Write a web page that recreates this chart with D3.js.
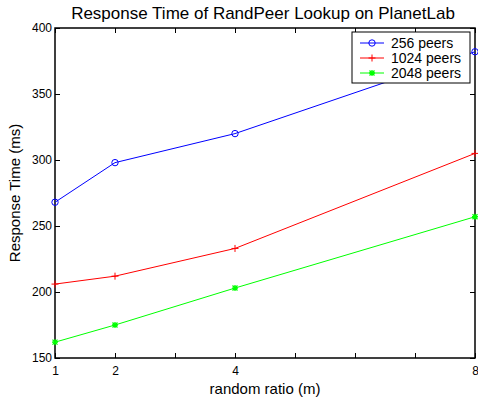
<!DOCTYPE html>
<html>
<head>
<meta charset="utf-8">
<script src="https://cdn.jsdelivr.net/npm/d3@7"></script>
<style>
  body { margin: 0; background: #fff; }
  text { font-family: "Liberation Sans", Arial, sans-serif; }
</style>
</head>
<body>
<div id="chart"></div>
<script>
var w = 478;
var h = 400;

var ratios = [1, 2, 4, 8];
var peers256 = [268, 298, 320, 382];
var peers1024 = [206, 212, 233, 305];
var peers2048 = [162, 175, 203, 257];
var seriesNames = ["256 peers", "1024 peers", "2048 peers"];
var xTicks = [1, 2, 3, 4, 5, 6, 7, 8];
var xTickLabels = {1: "1", 2: "2", 4: "4", 8: "8"};
var yTicks = [150, 200, 250, 300, 350, 400];

var series = [
  {name: seriesNames[0], values: peers256, color: "#0000ff", marker: "circle"},
  {name: seriesNames[1], values: peers1024, color: "#ff0000", marker: "plus"},
  {name: seriesNames[2], values: peers2048, color: "#00ff00", marker: "star"}
];

var plotLeft = 55, plotRight = 475, plotTop = 28, plotBottom = 358;

var xScale = d3.scaleLinear().domain([1, 8]).range([plotLeft, plotRight]);
var yScale = d3.scaleLinear().domain([150, 400]).range([plotBottom, plotTop]);

var svg = d3.select("#chart").append("svg")
  .attr("width", w)
  .attr("height", h);

// title
svg.append("text")
  .attr("x", 263)
  .attr("y", 19)
  .attr("text-anchor", "middle")
  .style("font-size", "17px")
  .text("Response Time of RandPeer Lookup on PlanetLab");

// axes (MATLAB style: ticks pointing inward, box around)
var xAxis = d3.axisBottom(xScale).tickValues(xTicks)
  .tickSize(-5).tickPadding(8)
  .tickFormat(function(d) { return xTickLabels[d] || ""; });
var xTop = d3.axisTop(xScale).tickValues(xTicks).tickSize(-5).tickFormat("");
var yAxis = d3.axisLeft(yScale).tickValues(yTicks)
  .tickSize(-5).tickPadding(3).tickFormat(d3.format("d"));
var yRight = d3.axisRight(yScale).tickValues(yTicks).tickSize(-5).tickFormat("");

function styleAxis(g) {
  g.select(".domain").remove();
  g.selectAll(".tick line").attr("stroke", "#000").attr("stroke-width", 1);
  g.selectAll(".tick text").style("font-size", "12px").attr("fill", "#000");
}

svg.append("g").attr("transform", "translate(0," + plotBottom + ")").call(xAxis).call(styleAxis);
svg.append("g").attr("transform", "translate(0," + plotTop + ")").call(xTop).call(styleAxis);
svg.append("g").attr("transform", "translate(" + plotLeft + ",0)").call(yAxis).call(styleAxis);
svg.append("g").attr("transform", "translate(" + plotRight + ",0)").call(yRight).call(styleAxis);

svg.append("rect")
  .attr("x", plotLeft).attr("y", plotTop)
  .attr("width", plotRight - plotLeft).attr("height", plotBottom - plotTop)
  .attr("fill", "none").attr("stroke", "#000").attr("stroke-width", 1.5);

// axis labels
svg.append("text")
  .attr("x", 265)
  .attr("y", 394)
  .attr("text-anchor", "middle")
  .style("font-size", "15px")
  .text("random ratio (m)");

svg.append("text")
  .attr("transform", "translate(20," + ((plotTop + plotBottom) / 2) + ") rotate(-90)")
  .attr("text-anchor", "middle")
  .style("font-size", "15px")
  .text("Response Time (ms)");

function drawMarker(g, type, x, y, color) {
  if (type == "circle") {
    g.append("circle").attr("cx", x).attr("cy", y).attr("r", 3.2)
      .attr("fill", "none").attr("stroke", color).attr("stroke-width", 1);
  } else if (type == "plus") {
    g.append("path").attr("d", "M" + (x - 3.5) + "," + y + "H" + (x + 3.5) + "M" + x + "," + (y - 3.5) + "V" + (y + 3.5))
      .attr("stroke", color).attr("stroke-width", 1);
  } else {
    var s = 2.5;
    g.append("path")
      .attr("d", "M" + (x - 3) + "," + y + "H" + (x + 3) + "M" + x + "," + (y - 3) + "V" + (y + 3) +
                 "M" + (x - s) + "," + (y - s) + "L" + (x + s) + "," + (y + s) +
                 "M" + (x - s) + "," + (y + s) + "L" + (x + s) + "," + (y - s))
      .attr("stroke", color).attr("stroke-width", 1.3);
  }
}

var line = d3.line()
  .x(function(d) { return xScale(d.x); })
  .y(function(d) { return yScale(d.y); });

series.forEach(function(s) {
  var pts = ratios.map(function(r, i) { return {x: r, y: s.values[i]}; });
  var g = svg.append("g");
  g.append("path").datum(pts)
    .attr("d", line)
    .attr("fill", "none")
    .attr("stroke", s.color)
    .attr("stroke-width", 1);
  pts.forEach(function(p) {
    drawMarker(g, s.marker, xScale(p.x), yScale(p.y), s.color);
  });
});

// legend
var lg = svg.append("g");
lg.append("rect")
  .attr("x", 352).attr("y", 32)
  .attr("width", 118).attr("height", 51)
  .attr("fill", "#fff").attr("stroke", "#000").attr("stroke-width", 1);

series.forEach(function(s, i) {
  var yy = 43 + i * 15;
  lg.append("line")
    .attr("x1", 360).attr("x2", 384)
    .attr("y1", yy).attr("y2", yy)
    .attr("stroke", s.color).attr("stroke-width", 1);
  drawMarker(lg, s.marker, 372, yy, s.color);
  lg.append("text")
    .attr("x", 391).attr("y", yy + 5)
    .style("font-size", "14px")
    .text(s.name);
});
</script>
</body>
</html>
